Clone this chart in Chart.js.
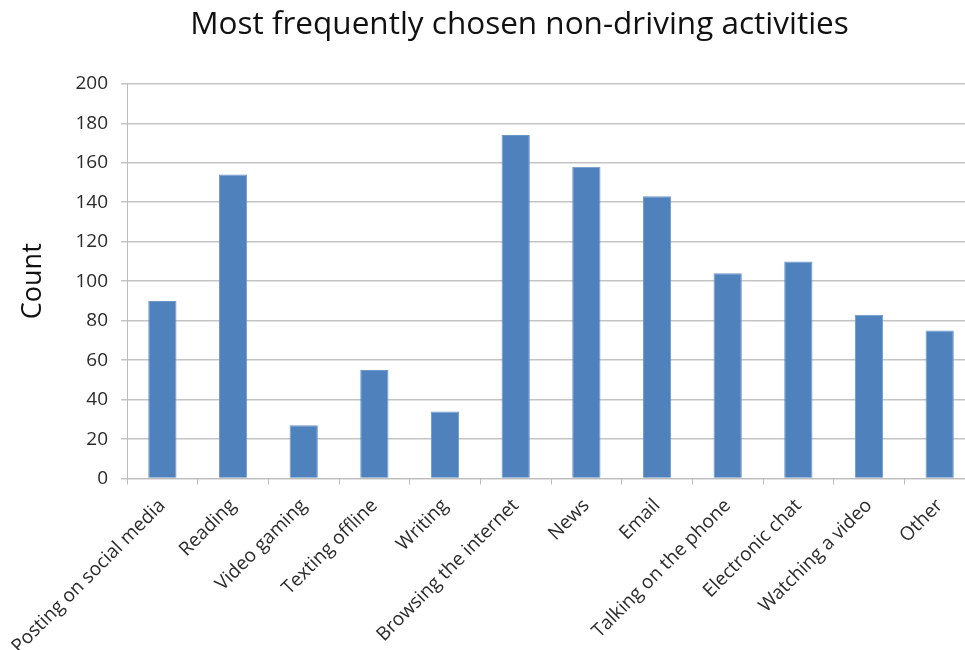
<!DOCTYPE html>
<html>
<head>
<meta charset="utf-8">
<script src="https://cdn.jsdelivr.net/npm/chart.js@4/dist/chart.umd.min.js"></script>
<style>
  html, body { margin: 0; padding: 0; background: #fff; overflow: hidden; }
  #wrap { width: 975px; height: 668px; }
</style>
</head>
<body>
<div id="wrap"><canvas id="activityChart"></canvas></div>
<script>
const activities = [
  "Posting on social media", "Reading", "Video gaming", "Texting offline",
  "Writing", "Browsing the internet", "News", "Email",
  "Talking on the phone", "Electronic chat", "Watching a video", "Other"
];
const counts = [90, 154, 27, 55, 34, 174, 158, 143, 104, 110, 83, 75];
const yTicks = [0, 20, 40, 60, 80, 100, 120, 140, 160, 180, 200];

const fontFamily = "'Open Sans', sans-serif";

// nudge the title a little to the right of the canvas centre
const titleShift = {
  id: "titleShift",
  afterLayout(chart) {
    if (chart.titleBlock) chart.titleBlock.left += 52;
  },
};

document.addEventListener("DOMContentLoaded", function () {
  const ctx = document.getElementById("activityChart").getContext("2d");

  new Chart(ctx, {
    type: "bar",
    data: {
      labels: activities,
      datasets: [
        {
          label: "Count",
          data: counts,
          backgroundColor: "#4f81bd",
          borderColor: "#6d97cb",
          borderWidth: 1,
          barPercentage: 0.4,
          categoryPercentage: 1.0,
        },
      ],
    },
    plugins: [titleShift],
    options: {
      responsive: true,
      maintainAspectRatio: false,
      animation: false,
      layout: { padding: { top: 2, right: 0, bottom: 0, left: 12 } },
      plugins: {
        legend: { display: false },
        tooltip: { enabled: false },
        title: {
          display: true,
          text: "Most frequently chosen non-driving activities",
          color: "#111",
          font: { family: fontFamily, size: 31.5, weight: "normal" },
          padding: { top: 4, bottom: 40 },
        },
      },
      scales: {
        x: {
          grid: {
            offset: true,
            drawOnChartArea: false,
            drawTicks: true,
            tickLength: 6,
            color: "#bdbdbd",
          },
          border: { color: "#bdbdbd", width: 1 },
          ticks: {
            color: "#2b2b2b",
            font: { family: fontFamily, size: 19 },
            maxRotation: 45,
            minRotation: 45,
            padding: 10,
          },
        },
        y: {
          min: 0,
          max: 200,
          afterBuildTicks: (axis) => {
            axis.ticks = yTicks.map((v) => ({ value: v }));
          },
          grid: {
            color: "#c4c4c4",
            lineWidth: 1.5,
            tickLength: 6,
          },
          border: { color: "#bdbdbd", width: 1 },
          ticks: {
            color: "#2b2b2b",
            font: { family: fontFamily, size: 19 },
            padding: 13,
          },
          title: {
            display: true,
            text: "Count",
            color: "#111",
            font: { family: fontFamily, size: 27 },
            padding: { top: 0, bottom: 13 },
          },
        },
      },
    },
  });
});
</script>
</body>
</html>
